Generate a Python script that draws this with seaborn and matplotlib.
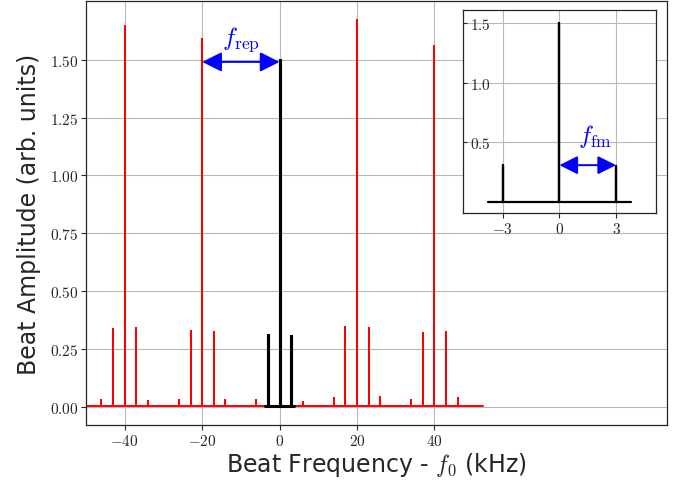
import numpy as np
import pandas as pd
import seaborn as sns
import matplotlib
matplotlib.use("Agg")
import matplotlib.pyplot as plt
from matplotlib.ticker import FuncFormatter

# ---------------- data ----------------
red_freqs = [-46, -43, -40, -37, -34, -26, -23, -20, -17, -14, -6,
             6, 14, 17, 20, 23, 26, 34, 37, 40, 43, 46]
red_heights = [0.032, 0.335, 1.645, 0.34, 0.026, 0.03, 0.328, 1.587, 0.326, 0.03, 0.03,
               0.022, 0.04, 0.344, 1.67, 0.342, 0.045, 0.03, 0.32, 1.558, 0.323, 0.04]
red_range = [-50, 52.6]

black_freqs = [-3, 0, 3]
black_heights = [0.313, 1.5, 0.305]
black_range = [-3.8, 3.8]

baseline = 0.006
main_xticks = [-40, -20, 0, 20, 40]
main_yticks = [0.0, 0.25, 0.5, 0.75, 1.0, 1.25, 1.5]
inset_xticks = [-3, 0, 3]
inset_yticks = [0.5, 1.0, 1.5]


def spike_line(freqs, heights, rng, base):
    xs, ys = [rng[0]], [base]
    for f, h in zip(freqs, heights):
        xs += [f, f, f]
        ys += [base, h, base]
    xs.append(rng[1])
    ys.append(base)
    return pd.DataFrame({"f": xs, "amp": ys})


red_df = spike_line(red_freqs, red_heights, red_range, baseline)
black_df = spike_line(black_freqs, black_heights, black_range, baseline)

# ---------------- style ----------------
sns.set_style("ticks")
plt.rcParams["font.family"] = ["DejaVu Sans"]
plt.rcParams["mathtext.fontset"] = "cm"
plt.rcParams["axes.linewidth"] = 0.9

fig = plt.figure(figsize=(6.77, 4.89), dpi=100)
ax = fig.add_axes([0.127, 0.129, 0.858, 0.867])

sns.lineplot(data=red_df, x="f", y="amp", sort=False, estimator=None,
             color="red", lw=1.4, ax=ax)
sns.lineplot(data=black_df, x="f", y="amp", sort=False, estimator=None,
             color="black", lw=2.2, ax=ax)

ax.set_xlim(-50, 100)
ax.set_xticks(main_xticks)
ax.set_yticks(main_yticks)
ax.xaxis.set_major_formatter(FuncFormatter(lambda v, p: f"${v:.0f}$"))
ax.yaxis.set_major_formatter(FuncFormatter(lambda v, p: f"${v:.2f}$"))
ax.tick_params(labelsize=11, length=3.5, width=0.8, pad=2)
ax.grid(True, color="#b8b8b8", lw=0.8)
ax.set_axisbelow(True)
ax.set_xlabel(r"Beat Frequency - $f_0$ (kHz)", fontsize=17, labelpad=2)
ax.set_ylabel("Beat Amplitude (arb. units)", fontsize=17, labelpad=6)

ax.annotate("", xy=(-20, 1.49), xytext=(0, 1.49),
            arrowprops=dict(arrowstyle="<|-|>", color="blue", lw=1.4,
                            mutation_scale=30, shrinkA=0, shrinkB=0))
ax.text(-10, 1.59, r"$f_{\rm rep}$", color="blue", fontsize=18,
        ha="center", va="center")

# ---------------- inset ----------------
ins = fig.add_axes([0.684, 0.5624, 0.2846, 0.4157])
sns.lineplot(data=black_df, x="f", y="amp", sort=False, estimator=None,
             color="black", lw=1.6, ax=ins)
ins.set_xlim(-5.1, 5.1)
ins.set_ylim(-0.09, 1.61)
ins.set_xticks(inset_xticks)
ins.set_yticks(inset_yticks)
ins.xaxis.set_major_formatter(FuncFormatter(lambda v, p: f"${v:.0f}$"))
ins.yaxis.set_major_formatter(FuncFormatter(lambda v, p: f"${v:.1f}$"))
ins.tick_params(axis="x", labelsize=11, length=3.5, width=0.8, pad=2)
ins.tick_params(axis="y", labelsize=11, length=3, width=0.8,
                direction="in", pad=-5)
for lbl in ins.get_yticklabels():
    lbl.set_horizontalalignment("left")
ins.grid(True, color="#b8b8b8", lw=0.8)
ins.set_axisbelow(True)
ins.set_xlabel("")
ins.set_ylabel("")
ins.annotate("", xy=(0, 0.31), xytext=(3, 0.31),
             arrowprops=dict(arrowstyle="<|-|>", color="blue", lw=1.4,
                             mutation_scale=28, shrinkA=0, shrinkB=0))
ins.text(1.9, 0.56, r"$f_{\rm fm}$", color="blue", fontsize=18,
         ha="center", va="center")

fig.savefig("out.png", dpi=100)
